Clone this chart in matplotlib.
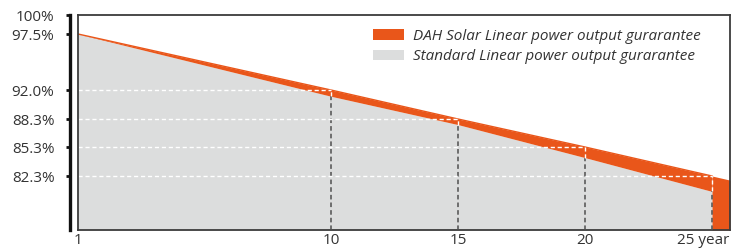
import numpy as np
import matplotlib
matplotlib.use("Agg")
import matplotlib.pyplot as plt
from matplotlib.patches import Patch
from matplotlib import transforms

plt.rcParams['font.family'] = ['Open Sans', 'DejaVu Sans']

# data
years = [1, 10, 15, 20, 25]
dah = [97.5, 92.0, 88.3, 85.3, 82.3]
standard = [97.5, 91.2, 87.7, 84.2, 80.7]
ytick_vals = [82.3, 85.3, 88.3, 92.0, 97.5, 100]
ytick_labels = ["82.3%", "85.3%", "88.3%", "92.0%", "97.5%", "100%"]
xtick_labels = ["1", "10", "15", "20", "25 year"]
legend_labels = ["DAH Solar Linear power output gurarantee",
                 "Standard Linear power output gurarantee"]

orange = "#E9561A"
grey = "#DCDDDD"
frame = "#3c3c3c"

# the source image uses uneven spacing on both axes, so map values -> position piecewise
y_knots = np.array([76.7, 82.3, 85.3, 88.3, 92.0, 97.5, 100.0])
y_pos = np.array([0, 54, 83, 111, 140, 196, 215], dtype=float)
x_knots = np.array([1, 10, 15, 20, 25, 25.71])
x_pos = np.array([0, 253, 380, 507, 634, 652], dtype=float)

def yf(v): return np.interp(v, y_knots, y_pos)
def yi(p): return np.interp(p, y_pos, y_knots)
def xf(v): return np.interp(v, x_knots, x_pos)
def xi(p): return np.interp(p, x_pos, x_knots)

fig = plt.figure(figsize=(7.4, 2.49), dpi=100)
ax = fig.add_axes([78 / 740, 19 / 249, 652 / 740, 215 / 249])
ax.set_xscale('function', functions=(xf, xi))
ax.set_yscale('function', functions=(yf, yi))
xmin, xmax = 1, 25.71
ymin, ymax = 76.7, 100
ax.set_xlim(xmin, xmax)
ax.set_ylim(ymin, ymax)

# extend the DAH line to the right edge with its last slope
slope = (dah[-1] - dah[-2]) / (years[-1] - years[-2])
dah_end = dah[-1] + slope * (xmax - years[-1])

ax.fill_between(years, ymin, standard, color=grey, lw=0, zorder=1)
ax.fill_between(years, standard, dah, color=orange, lw=0, zorder=2)
ax.fill_between([years[-1], xmax], ymin, [dah[-1], dah_end], color=orange, lw=0, zorder=2)
ax.plot(years, dah, color=orange, lw=1, zorder=3)

# guide lines
for yr, d, s in zip(years[1:], dah[1:], standard[1:]):
    ax.plot([xmin, yr], [d, d], color="white", lw=1, ls=(0, (3, 2)), zorder=4)
    ax.plot([yr, yr], [ymin, s], color="#505050", lw=1.1, ls=(0, (3, 2)), zorder=4)
    ax.plot([yr, yr], [s, d], color="white", lw=1, ls=(0, (3, 2)), zorder=4)

# frame + offset y axis line
for sp in ['top', 'right', 'bottom']:
    ax.spines[sp].set_color(frame)
    ax.spines[sp].set_linewidth(1.3)
ax.plot([0, 0], [0, 1], transform=ax.transAxes, color=frame, lw=1.3, clip_on=False, zorder=5)
ax.spines['left'].set_position(('outward', 6))
ax.spines['left'].set_linewidth(2.4)
ax.spines['left'].set_color("#111111")

ax.set_yticks(ytick_vals)
ax.set_yticklabels(ytick_labels)
ax.yaxis.set_minor_locator(matplotlib.ticker.NullLocator())
ax.tick_params(axis='y', direction='out', length=3, width=2, color="#111111",
               pad=8, labelsize=11, labelcolor="#333333")

ax.set_xticks(years)
ax.set_xticklabels(xtick_labels)
ax.xaxis.set_minor_locator(matplotlib.ticker.NullLocator())
ax.tick_params(axis='x', length=0, pad=2, labelsize=11, labelcolor="#333333")
last = ax.get_xticklabels()[-1]
last.set_transform(last.get_transform() +
                   transforms.ScaledTranslation(-9 / 100, 0, fig.dpi_scale_trans))

handles = [Patch(color=orange, lw=0), Patch(color=grey, lw=0)]
ax.legend(handles, legend_labels, loc='upper left', bbox_to_anchor=(373 / 740, 1 - 29 / 249),
          bbox_transform=fig.transFigure, frameon=False, prop={'style': 'italic', 'size': 11},
          handlelength=2.0, handleheight=0.7, handletextpad=0.6, labelspacing=0.35,
          labelcolor="#333333", borderaxespad=0, borderpad=0)

fig.savefig("out.png", dpi=100)
